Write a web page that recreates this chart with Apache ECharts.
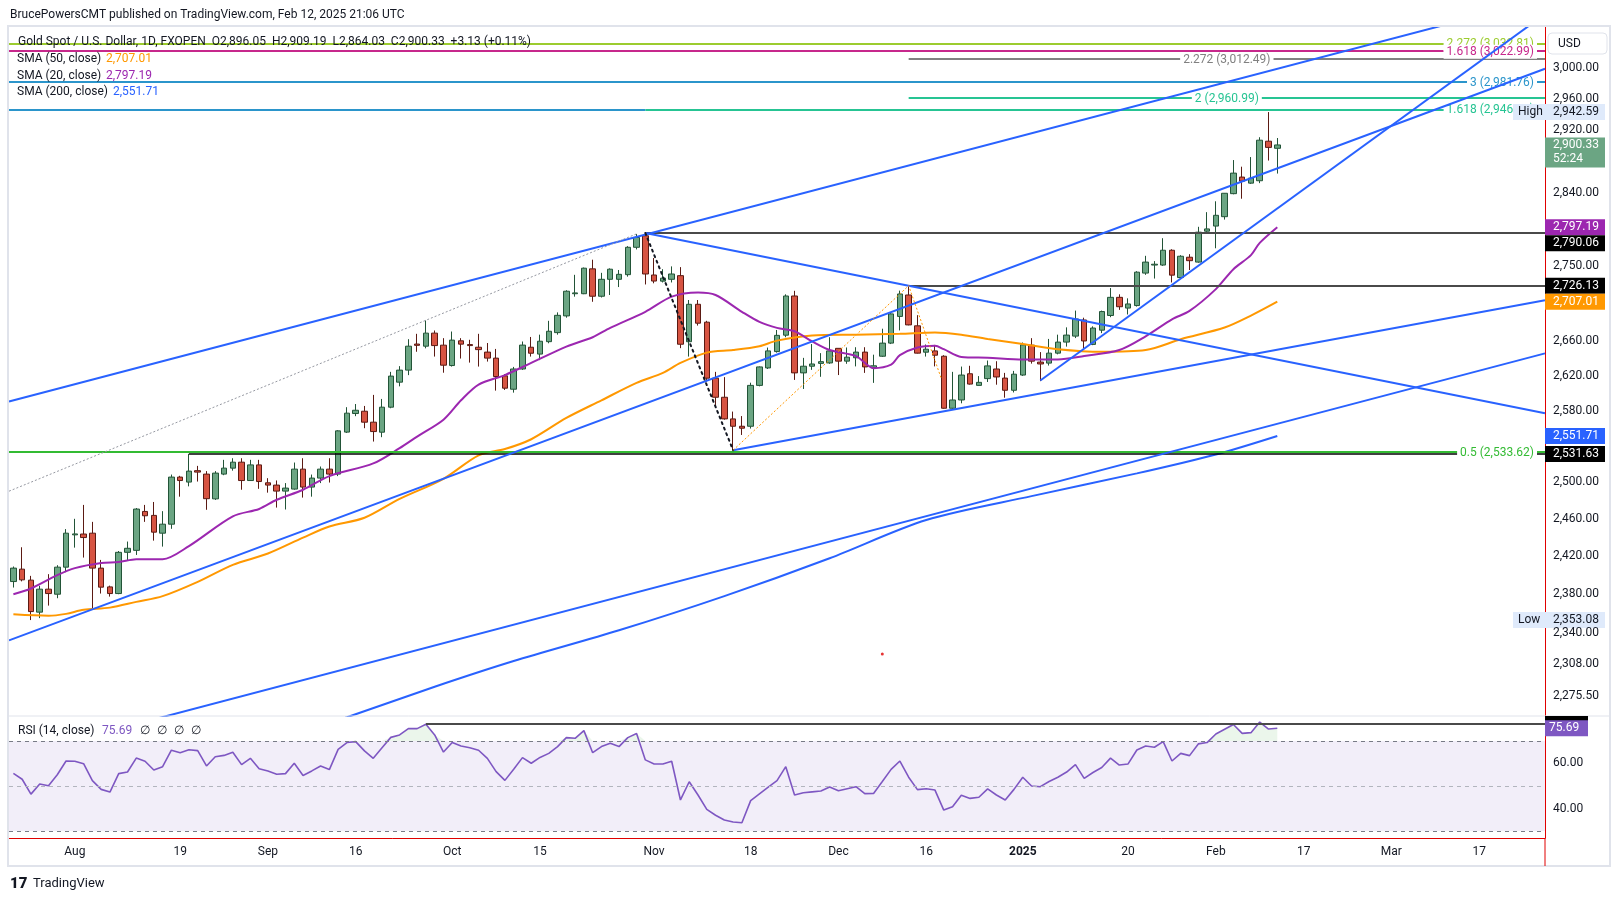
<!DOCTYPE html>
<html>
<head>
<meta charset="utf-8">
<title>Gold Spot / U.S. Dollar, 1D</title>
<script src="https://cdn.jsdelivr.net/npm/echarts@6/dist/echarts.min.js"></script>
<style>
  html, body { margin: 0; padding: 0; background: #ffffff; }
  #chart { width: 1620px; height: 901px; }
</style>
</head>
<body>
<div id="chart"></div>
<script>
// ---- categories: trading days from Jul 23 2024, future slots through late March
const startDay = [2024, 6, 23]
const barCount = 175
const holidays = ['2024-12-25', '2025-01-01']

// bottom axis labels
const tickDates = ['2024-08-01', '2024-08-19', '2024-09-02', '2024-09-16', '2024-10-01', '2024-10-15', '2024-11-01', '2024-11-18',
  '2024-12-02', '2024-12-16', '2025-01-02', '2025-01-20', '2025-02-03', '2025-02-17', '2025-03-03', '2025-03-17']
const tickTexts = ['Aug', '19', 'Sep', '16', 'Oct', '15', 'Nov', '18', 'Dec', '16', '2025', '20', 'Feb', '17', 'Mar', '17']

// price scale labels (log scale)
const priceTicks = [3000, 2960, 2920, 2840, 2750, 2660, 2620, 2580, 2500, 2460, 2420, 2380, 2340, 2308, 2275.5]
const rsiTicks = [60, 40]

// ---- daily candles
const openP = [
  2393.3, 2406.4, 2394.8, 2361.3, 2385.3, 2380.0, 2408.5, 2443.0, 2443.9, 2444.8,
  2407.5, 2387.7, 2380.7, 2424.3, 2426.4, 2468.3, 2464.0, 2444.8, 2454.5, 2505.9,
  2500.4, 2513.0, 2509.2, 2482.0, 2509.2, 2515.8, 2522.4, 2502.1, 2519.4, 2499.6,
  2497.1, 2490.5, 2492.7, 2514.7, 2494.9, 2504.8, 2514.7, 2509.2, 2556.0, 2577.0,
  2579.6, 2567.2, 2555.9, 2584.2, 2612.8, 2626.7, 2657.0, 2654.5, 2669.8, 2655.7,
  2632.0, 2660.8, 2656.4, 2653.3, 2647.6, 2640.6, 2620.1, 2604.7, 2628.0, 2653.3,
  2645.3, 2659.8, 2670.4, 2690.1, 2716.5, 2716.5, 2746.4, 2713.5, 2733.8, 2733.8,
  2739.4, 2772.6, 2786.7, 2739.0, 2731.6, 2733.8, 2738.2, 2659.7, 2703.9, 2682.7,
  2617.4, 2595.5, 2570.9, 2562.6, 2562.6, 2609.1, 2629.2, 2648.2, 2667.4, 2713.8,
  2623.5, 2631.2, 2634.5, 2635.0, 2652.0, 2637.1, 2641.0, 2647.6, 2629.6, 2642.8,
  2658.1, 2689.5, 2715.0, 2678.4, 2647.5, 2649.0, 2642.8, 2583.0, 2592.4, 2622.5,
  2609.1, 2616.9, 2628.0, 2617.5, 2603.5, 2621.0, 2655.7, 2636.0, 2634.8, 2646.4,
  2659.3, 2666.3, 2685.3, 2656.6, 2673.3, 2690.6, 2712.2, 2699.4, 2702.4, 2741.3,
  2751.0, 2751.0, 2769.0, 2735.9, 2760.5, 2754.6, 2792.3, 2798.6, 2810.2, 2838.8,
  2859.6, 2852.0, 2855.0, 2905.1, 2896.05
]
const highP = [
  2409.2, 2429.7, 2399.3, 2388.8, 2401.1, 2410.6, 2449.2, 2460.3, 2475.4, 2457.0,
  2416.2, 2389.0, 2425.7, 2435.8, 2472.0, 2475.4, 2478.6, 2468.6, 2508.7, 2507.3,
  2531.6, 2518.3, 2512.5, 2512.5, 2525.0, 2526.8, 2526.8, 2525.0, 2525.0, 2504.7,
  2502.2, 2499.3, 2522.0, 2526.8, 2508.7, 2517.6, 2526.8, 2558.2, 2584.2, 2587.8,
  2585.6, 2598.2, 2593.6, 2624.7, 2631.3, 2662.7, 2669.0, 2684.7, 2672.9, 2663.9,
  2671.7, 2663.9, 2662.0, 2669.0, 2658.2, 2651.3, 2622.0, 2630.4, 2660.0, 2665.3,
  2668.0, 2684.3, 2694.3, 2720.7, 2739.2, 2748.0, 2757.5, 2741.6, 2747.0, 2745.0,
  2774.0, 2788.8, 2790.06, 2759.5, 2746.0, 2749.4, 2748.5, 2709.0, 2709.0, 2684.3,
  2624.7, 2618.6, 2579.2, 2574.1, 2612.2, 2631.0, 2652.9, 2673.5, 2715.8, 2720.0,
  2640.9, 2657.0, 2646.4, 2665.0, 2652.0, 2653.0, 2653.3, 2653.3, 2644.6, 2675.0,
  2694.0, 2720.2, 2726.13, 2691.0, 2656.5, 2656.0, 2644.0, 2624.7, 2630.8, 2631.7,
  2619.8, 2637.8, 2637.0, 2623.5, 2625.8, 2658.8, 2663.9, 2647.6, 2663.0, 2668.0,
  2676.6, 2696.4, 2688.0, 2677.8, 2696.4, 2723.3, 2715.8, 2711.0, 2743.6, 2762.2,
  2755.8, 2783.7, 2770.2, 2763.0, 2764.2, 2797.7, 2815.8, 2829.3, 2839.5, 2881.1,
  2872.7, 2884.9, 2910.2, 2942.59, 2909.19
]
const lowP = [
  2387.0, 2393.5, 2353.08, 2355.1, 2368.1, 2375.8, 2403.2, 2429.3, 2418.7, 2363.7,
  2380.7, 2377.5, 2380.0, 2415.2, 2421.5, 2457.0, 2436.8, 2430.4, 2449.5, 2484.4,
  2495.7, 2501.0, 2470.1, 2480.8, 2508.0, 2513.0, 2492.0, 2502.0, 2493.0, 2488.8,
  2472.5, 2470.4, 2492.0, 2483.4, 2484.4, 2499.3, 2499.9, 2507.0, 2555.0, 2574.0,
  2560.4, 2545.4, 2550.3, 2583.0, 2608.0, 2620.9, 2648.0, 2652.0, 2642.4, 2623.7,
  2630.8, 2640.1, 2635.4, 2630.8, 2636.6, 2603.1, 2603.9, 2600.8, 2627.0, 2642.4,
  2638.3, 2657.9, 2668.0, 2688.0, 2713.0, 2716.0, 2706.9, 2712.0, 2715.0, 2724.5,
  2737.0, 2770.0, 2727.6, 2729.0, 2730.0, 2730.0, 2652.2, 2642.4, 2678.7, 2613.5,
  2586.7, 2570.0, 2535.7, 2552.8, 2560.0, 2608.0, 2628.0, 2647.0, 2665.0, 2615.4,
  2605.0, 2627.0, 2619.0, 2634.0, 2621.0, 2634.0, 2631.0, 2623.5, 2612.0, 2642.0,
  2657.0, 2673.0, 2679.0, 2646.0, 2642.4, 2631.0, 2582.5, 2581.0, 2588.6, 2610.0,
  2609.0, 2613.0, 2609.9, 2595.0, 2601.0, 2620.0, 2634.2, 2614.0, 2632.0, 2645.0,
  2654.0, 2664.0, 2652.0, 2655.7, 2669.8, 2688.6, 2697.3, 2691.8, 2701.2, 2739.2,
  2734.7, 2750.0, 2730.0, 2734.7, 2745.0, 2753.8, 2789.7, 2771.4, 2806.6, 2838.0,
  2832.5, 2851.0, 2852.0, 2880.5, 2864.03
]
const closeP = [
  2407.5, 2395.1, 2361.9, 2385.3, 2380.7, 2408.5, 2444.8, 2444.0, 2440.1, 2407.5,
  2387.4, 2380.7, 2424.3, 2428.6, 2470.9, 2463.6, 2445.9, 2454.5, 2505.9, 2502.1,
  2512.5, 2511.4, 2482.2, 2510.3, 2515.8, 2522.4, 2502.1, 2519.4, 2501.0, 2497.1,
  2490.5, 2493.8, 2514.7, 2494.9, 2504.8, 2514.7, 2509.2, 2557.4, 2577.4, 2580.7,
  2567.2, 2556.6, 2584.2, 2619.8, 2626.7, 2654.5, 2655.5, 2669.8, 2655.2, 2632.4,
  2661.6, 2656.9, 2655.2, 2650.5, 2640.6, 2619.3, 2605.9, 2628.0, 2655.8, 2646.3,
  2660.3, 2672.0, 2690.8, 2719.5, 2717.5, 2747.2, 2713.5, 2733.8, 2746.0, 2739.8,
  2772.6, 2784.6, 2740.2, 2731.7, 2735.2, 2740.2, 2656.8, 2703.9, 2681.5, 2617.4,
  2595.5, 2570.9, 2562.6, 2560.4, 2609.1, 2630.4, 2649.0, 2667.2, 2713.8, 2623.5,
  2631.2, 2633.8, 2636.5, 2649.0, 2637.1, 2641.7, 2647.6, 2630.4, 2631.7, 2658.1,
  2692.5, 2716.2, 2679.5, 2646.4, 2651.0, 2644.0, 2583.0, 2592.4, 2621.0, 2610.6,
  2612.6, 2631.6, 2618.8, 2603.5, 2622.0, 2656.1, 2637.1, 2633.8, 2646.4, 2659.3,
  2667.5, 2686.5, 2660.6, 2675.8, 2695.3, 2712.2, 2701.0, 2704.3, 2742.4, 2754.6,
  2752.0, 2769.0, 2738.8, 2761.7, 2756.3, 2791.1, 2795.1, 2811.9, 2839.3, 2864.6,
  2854.5, 2858.3, 2906.4, 2897.2, 2900.33
]

// ---- moving averages, read at points along each curve: [bar index, value]
const sma20Pts = [[0, 2380], [2, 2386], [5, 2400], [7, 2407.5], [10, 2413], [12, 2414], [14, 2417], [17, 2417], [20, 2431],
  [25, 2463], [28, 2471], [30, 2481], [33, 2492], [36, 2507], [41, 2521], [44, 2538], [46, 2551], [49, 2570], [51, 2592],
  [53, 2610], [56, 2621], [59, 2635], [63, 2654], [66, 2665], [68, 2676], [72, 2695], [75, 2713], [78, 2718], [80, 2715],
  [83, 2695], [85, 2683], [87, 2676], [89, 2672], [91, 2660], [93, 2650], [96, 2643], [98, 2629], [100, 2633], [101, 2644],
  [103, 2653], [105, 2655], [106, 2651], [108, 2642], [111, 2641], [115, 2639], [119, 2639], [122, 2643], [126, 2650],
  [129, 2666], [132, 2686], [134, 2696], [137, 2722], [139, 2746], [141, 2763], [142, 2778], [144, 2797.19]]
const sma50Pts = [[0, 2359], [4, 2357.5], [6, 2359.5], [8, 2363.7], [11, 2366], [14, 2372], [17, 2378], [21, 2393], [25, 2411],
  [29, 2423], [33, 2440], [36, 2452], [40, 2461.5], [44, 2482], [49, 2504], [53, 2530], [56, 2537], [59, 2548], [63, 2572],
  [67, 2592], [71, 2612], [74, 2623.5], [76, 2635], [79, 2647], [82, 2650], [85, 2654.5], [87, 2661], [91, 2667], [96, 2668],
  [101, 2669], [105, 2670.6], [108, 2668], [111, 2663], [115, 2657], [119, 2651], [124, 2648], [129, 2650], [133, 2662.6],
  [138, 2676.4], [141, 2690.5], [144, 2707.01]]
const sma200Pts = [[30, 2232], [38, 2254.5], [48, 2285], [57, 2311], [69, 2342.5], [81, 2378], [93, 2418], [104, 2459],
  [116, 2485], [128, 2510], [137, 2531], [144, 2551.71]]

// ---- RSI (14) per bar
const rsiVals = [
  55.6, 53.0, 46.4, 50.9, 50.1, 55.0, 61.1, 61.0, 59.9, 52.4,
  48.5, 47.3, 55.5, 56.2, 62.4, 61.0, 57.1, 58.6, 65.9, 64.8,
  66.1, 65.7, 58.9, 63.0, 63.6, 65.0, 59.5, 62.3, 57.7, 56.7,
  55.2, 55.5, 60.1, 54.7, 56.7, 58.9, 57.3, 66.3, 69.3, 69.7,
  65.6, 62.3, 67.0, 71.6, 72.7, 75.5, 75.5, 77.4, 72.7, 65.1,
  69.3, 67.8, 67.0, 65.9, 62.3, 56.4, 52.5, 57.4, 62.6, 60.1,
  62.7, 64.5, 67.5, 71.5, 71.2, 74.6, 64.8, 67.5, 69.0, 67.5,
  71.5, 73.3, 61.6, 59.8, 59.8, 61.0, 43.8, 51.9, 46.0, 39.6,
  37.0, 34.9, 34.0, 33.7, 43.5, 46.5, 49.5, 52.4, 58.6, 46.0,
  47.0, 47.4, 47.8, 49.6, 47.9, 48.8, 49.7, 46.6, 46.7, 52.0,
  57.4, 61.1, 53.9, 48.4, 48.8, 48.2, 39.3, 40.8, 45.9, 44.5,
  45.0, 48.7, 46.0, 43.8, 48.5, 53.9, 50.0, 49.7, 52.0, 53.9,
  56.2, 59.5, 53.4, 56.0, 58.2, 62.4, 59.3, 59.8, 66.0, 67.8,
  67.2, 69.7, 61.1, 64.5, 63.5, 68.7, 69.3, 73.1, 75.2, 77.3,
  73.4, 73.7, 78.4, 75.3, 75.69
]

// ---- drawn trendlines: two anchors each [bar index, price]
const channelTop = [[-0.5, 2590.6], [174.5, 3093.3]]
const channelBottom = [[-0.5, 2332.1], [174.5, 2999.3]]
const janSupport = [[117, 2614.7], [174.5, 3072.2]]
const octHighLine = [[72, 2790.06], [174.5, 2577.4]]
const novLowLine = [[82, 2535.7], [174.5, 2708.6]]
const longSupport = [[-0.5, 2215.0], [174.5, 2646.1]]
const grayDotted = [[-0.5, 2490.4], [71, 2789]]
const blackDotted = [[72, 2790.06], [82, 2535.7]]
const orangeDotted = [[82, 2535.7], [102, 2726.13], [105.7, 2617.5]]
const redDot = [[99, 2318.2]]

// ---- price-scale tags
const tagPrices = [2942.59, 2900.33, 2797.19, 2790.06, 2726.13, 2707.01, 2551.71, 2531.63, 2353.08]
const tagColors = ['#dfeafb', '#6ba583', '#9c27b0', '#000000', '#000000', '#ff9800', '#2962ff', '#000000', '#dfeafb']
const tagPrefix = ['High', '', '', '', '', '', '', '', 'Low']

const FONT = 'Roboto, "Noto Sans", sans-serif'
const TXT = '#131722'
const RED = '#e00000'

function buildDates () {
  const out = []
  const d = new Date(Date.UTC(startDay[0], startDay[1], startDay[2]))
  while (out.length < barCount) {
    const day = d.getUTCDay()
    const key = d.toISOString().slice(0, 10)
    if (day !== 0 && day !== 6 && holidays.indexOf(key) < 0) out.push(key)
    d.setUTCDate(d.getUTCDate() + 1)
  }
  return out
}
const dates = buildDates()

function fmt (v) {
  return v.toLocaleString('en-US', { minimumFractionDigits: 2, maximumFractionDigits: 2 })
}

function lineSeries (name, data, color, width, extra) {
  return Object.assign({
    name: name,
    type: 'line',
    xAxisIndex: 2,
    yAxisIndex: 0,
    data: data,
    symbol: 'none',
    silent: true,
    animation: false,
    lineStyle: { color: color, width: width },
    z: 5
  }, extra || {})
}

function hLevel (price, color, text, pos, from, to, width) {
  const label = text
    ? { show: true, position: pos, formatter: text, color: color, fontSize: 12, fontFamily: FONT,
        distance: [8, -8], backgroundColor: '#ffffff', padding: [1, 3] }
    : { show: false }
  const style = { color: color, width: width || 2, type: 'solid' }
  if (from === undefined) {
    return { yAxis: price, lineStyle: style, label: label }
  }
  return [{ coord: [from, price], lineStyle: style, label: label }, { coord: [to, price] }]
}

const chart = echarts.init(document.getElementById('chart'))

const option = {
  animation: false,
  backgroundColor: '#ffffff',
  textStyle: { fontFamily: FONT },
  grid: [
    { left: 9, top: 26, width: 1536, height: 690 },
    { left: 9, top: 716, width: 1536, height: 122 }
  ],
  xAxis: [
    { type: 'category', gridIndex: 0, data: dates, boundaryGap: true, show: false },
    {
      type: 'category',
      gridIndex: 1,
      data: dates,
      boundaryGap: true,
      axisLine: { show: true, onZero: false, lineStyle: { color: RED, width: 1 } },
      axisTick: { show: false },
      splitLine: { show: false },
      axisLabel: {
        margin: 8,
        color: TXT,
        fontSize: 12,
        fontFamily: FONT,
        interval: function (index, value) { return tickDates.indexOf(value) >= 0 },
        formatter: function (value) {
          const k = tickDates.indexOf(value)
          if (k < 0) return ''
          return tickTexts[k] === '2025' ? '{b|2025}' : tickTexts[k]
        },
        rich: { b: { fontWeight: 'bold', fontSize: 12, color: TXT, fontFamily: FONT } }
      }
    },
    { type: 'value', gridIndex: 0, min: -0.5, max: barCount - 0.5, show: false },
    { type: 'value', gridIndex: 1, min: -0.5, max: barCount - 0.5, show: false }
  ],
  yAxis: [
    {
      type: 'log',
      gridIndex: 0,
      min: 2255.8,
      max: 3056.2,
      position: 'right',
      axisLine: { show: true, onZero: false, lineStyle: { color: RED, width: 1 } },
      axisTick: { show: false },
      axisLabel: { show: false },
      splitLine: { show: false }
    },
    {
      type: 'value',
      gridIndex: 1,
      min: 26.9,
      max: 81.1,
      position: 'right',
      axisLine: { show: true, onZero: false, lineStyle: { color: RED, width: 1 } },
      axisTick: { show: false },
      axisLabel: { show: false },
      splitLine: { show: false }
    }
  ],
  series: [
    // horizontal levels and fib lines
    {
      name: 'levels',
      type: 'line',
      xAxisIndex: 2,
      yAxisIndex: 0,
      data: [[0, 2600]],
      symbol: 'none',
      lineStyle: { opacity: 0 },
      silent: true,
      z: 2,
      markLine: {
        symbol: ['none', 'none'],
        silent: true,
        animation: false,
        data: [
          hLevel(3032.81, '#9ccc2f', '2.272 (3,032.81)', 'insideEndTop'),
          hLevel(3022.99, '#c7288c', '1.618 (3,022.99)', 'insideEndTop'),
          hLevel(3012.49, '#808080', '2.272 (3,012.49)', 'middle', 102, 174.5),
          hLevel(2981.76, '#2b95cb', '3 (2,981.76)', 'insideEndTop'),
          hLevel(2960.99, '#26c493', '2 (2,960.99)', 'middle', 102, 174.5),
          hLevel(2946.1, '#2b95cb', '', null, -0.5, 72),
          hLevel(2946.1, '#26c493', '1.618 (2,946.08)', 'insideEndTop', 72, 174.5),
          hLevel(2790.06, '#4a4a4a', '', null, 72, 174.5),
          hLevel(2726.13, '#4a4a4a', '', null, 102, 174.5),
          hLevel(2533.62, '#33bb33', '0.5 (2,533.62)', 'insideEndTop'),
          hLevel(2531.63, '#000000', '', null, 20, 174.5, 1.5)
        ]
      }
    },
    lineSeries('SMA 200', sma200Pts, '#2962ff', 2, { smooth: 0.3, z: 4 }),
    lineSeries('SMA 50', sma50Pts, '#ff9800', 2, { smooth: 0.3, z: 4 }),
    lineSeries('SMA 20', sma20Pts, '#9c27b0', 2, { smooth: 0.3, z: 4 }),
    {
      name: 'Gold',
      type: 'candlestick',
      xAxisIndex: 0,
      yAxisIndex: 0,
      barWidth: 6,
      silent: true,
      z: 3,
      data: openP.map(function (o, i) { return [o, closeP[i], lowP[i], highP[i]] }),
      itemStyle: {
        color: '#6ba583',
        color0: '#d75442',
        borderColor: '#225437',
        borderColor0: '#5b1a13',
        borderWidth: 1
      }
    },
    lineSeries('channel top', channelTop, '#2962ff', 2),
    lineSeries('channel bottom', channelBottom, '#2962ff', 2),
    lineSeries('jan support', janSupport, '#2962ff', 2),
    lineSeries('oct high line', octHighLine, '#2962ff', 2),
    lineSeries('nov low line', novLowLine, '#2962ff', 2),
    lineSeries('long support', longSupport, '#2962ff', 2),
    lineSeries('gray dotted', grayDotted, '#9598a1', 1, { lineStyle: { color: '#9598a1', width: 1, type: [2, 2] } }),
    lineSeries('black dotted', blackDotted, '#131722', 2, { lineStyle: { color: '#131722', width: 2, type: [2, 4], cap: 'round' } }),
    lineSeries('orange dotted', orangeDotted, '#ff9800', 1, { lineStyle: { color: '#ff9800', width: 1, type: [2, 2] } }),
    {
      name: 'mark',
      type: 'scatter',
      xAxisIndex: 2,
      yAxisIndex: 0,
      data: redDot,
      symbolSize: 3,
      itemStyle: { color: RED },
      silent: true
    },
    // RSI pane
    {
      name: 'RSI overbought',
      type: 'line',
      xAxisIndex: 3,
      yAxisIndex: 1,
      data: rsiVals.map(function (v, i) { return [i, Math.max(v, 70)] }),
      symbol: 'none',
      silent: true,
      lineStyle: { opacity: 0 },
      areaStyle: { origin: 70, color: 'rgba(76,175,80,0.16)' },
      z: 2
    },
    {
      name: 'RSI',
      type: 'line',
      xAxisIndex: 3,
      yAxisIndex: 1,
      data: rsiVals.map(function (v, i) { return [i, v] }),
      symbol: 'none',
      silent: true,
      lineStyle: { color: '#7e57c2', width: 1.6 },
      z: 3,
      markArea: {
        silent: true,
        itemStyle: { color: 'rgba(126,87,194,0.1)' },
        data: [[{ yAxis: 70 }, { yAxis: 30 }]]
      },
      markLine: {
        symbol: ['none', 'none'],
        silent: true,
        label: { show: false },
        data: [
          { yAxis: 70, lineStyle: { color: '#787b86', type: [4, 4], width: 1 } },
          { yAxis: 50, lineStyle: { color: '#b2b5be', type: [4, 4], width: 1 } },
          { yAxis: 30, lineStyle: { color: '#787b86', type: [4, 4], width: 1 } },
          [{ coord: [47, 77.7], lineStyle: { color: '#4a4a4a', type: 'solid', width: 2 } }, { coord: [174.5, 77.7] }]
        ]
      }
    }
  ]
}

chart.setOption(option)

function buildOverlay () {
  const g = []
  const axisX = 1545
  const textX = 1553
  function text (x, y, str, color, size, weight, align, rich) {
    g.push({
      type: 'text',
      z: 120,
      silent: true,
      style: {
        x: x, y: y, text: str, fill: color,
        font: (weight || 'normal') + ' ' + (size || 12) + 'px ' + FONT,
        textAlign: align || 'left', textVerticalAlign: 'middle',
        rich: rich || undefined
      }
    })
  }
  function rect (x, y, w, h, fill, stroke, r) {
    g.push({
      type: 'rect',
      z: 110,
      silent: true,
      shape: { x: x, y: y, width: w, height: h, r: r || 0 },
      style: { fill: fill, stroke: stroke || null, lineWidth: stroke ? 1 : 0 }
    })
  }

  // frame and pane separator
  g.push({ type: 'rect', z: 100, silent: true, shape: { x: 8, y: 26, width: 1602, height: 840 }, style: { fill: null, stroke: '#e0e3eb', lineWidth: 2 } })
  g.push({ type: 'line', z: 101, silent: true, shape: { x1: 8, y1: 716, x2: 1610, y2: 716 }, style: { stroke: '#e0e3eb', lineWidth: 1 } })
  g.push({ type: 'line', z: 101, silent: true, shape: { x1: axisX, y1: 838, x2: axisX, y2: 866 }, style: { stroke: RED, lineWidth: 1 } })

  // price scale ticks
  priceTicks.forEach(function (p) {
    text(textX, chart.convertToPixel({ yAxisIndex: 0 }, p), fmt(p), TXT)
  })
  rsiTicks.forEach(function (v) {
    text(textX, chart.convertToPixel({ yAxisIndex: 1 }, v), fmt(v), TXT)
  })

  // price tags, pushed down when they would overlap
  let prevBottom = -1
  tagPrices.forEach(function (p, i) {
    const y = chart.convertToPixel({ yAxisIndex: 0 }, p)
    const isLast = i === 1
    const h = isLast ? 30 : 16
    let top = isLast ? y - 7.5 : y - h / 2
    if (top < prevBottom) top = prevBottom
    prevBottom = top + h
    const light = tagPrefix[i] !== ''
    const fg = light ? TXT : '#ffffff'
    if (light) {
      rect(1513, top, 92, h, tagColors[i])
      text(1518, top + h / 2, tagPrefix[i], TXT)
    } else {
      rect(axisX, top, 60, h, tagColors[i])
    }
    if (isLast) {
      text(textX, top + 8, fmt(p), fg)
      text(textX, top + 22, '52:24', fg)
    } else {
      text(textX, top + h / 2, fmt(p), fg)
    }
  })

  // RSI tag (line label clipped by the pane top, value tag below it)
  const ry = chart.convertToPixel({ yAxisIndex: 1 }, rsiVals[rsiVals.length - 1])
  rect(axisX, 716, 43, 6, '#000000')
  rect(axisX, ry - 8, 43, 16, '#7e57c2')
  text(textX - 4, ry, fmt(rsiVals[rsiVals.length - 1]), '#ffffff')

  // USD box
  rect(1548, 33, 59, 21, '#ffffff', '#e0e3eb', 4)
  text(1558, 43.5, 'USD', TXT)

  // header and legends
  text(10, 14.5, 'BrucePowersCMT published on TradingView.com, Feb 12, 2025 21:06 UTC', TXT)
  const ohlcK = ['O', 'H', 'L', 'C']
  const ohlcV = ['2,896.05', '2,909.19', '2,864.03', '2,900.33']
  let header = '{n|Gold Spot / U.S. Dollar, 1D, FXOPEN}  '
  ohlcK.forEach(function (k, i) { header += '{n|' + k + '}{v|' + ohlcV[i] + '}  ' })
  header += '{v|+3.13 (+0.11%)}'
  text(18, 42, header, TXT, 12, 'normal', 'left', {
    n: { fontSize: 12, fontFamily: FONT, color: TXT },
    v: { fontSize: 12, fontFamily: FONT, color: '#089981' }
  })

  text(17, 59, 'SMA (50, close)', TXT)
  text(106, 59, '2,707.01', '#ff9800')
  text(17, 75.5, 'SMA (20, close)', TXT)
  text(106, 75.5, '2,797.19', '#9c27b0')
  text(17, 92, 'SMA (200, close)', TXT)
  text(113, 92, '2,551.71', '#2962ff')

  text(18, 731, 'RSI (14, close)', TXT)
  text(102, 731, '75.69', '#7e57c2')
  ;[140, 157, 174, 191].forEach(function (x) { text(x, 731, '\u2205', TXT) })

  // footer logo
  text(10, 884, '17', '#131722', 15, '900')
  text(33, 884, 'TradingView', TXT, 13)
  return g
}

chart.setOption({ graphic: buildOverlay() })
</script>
</body>
</html>
